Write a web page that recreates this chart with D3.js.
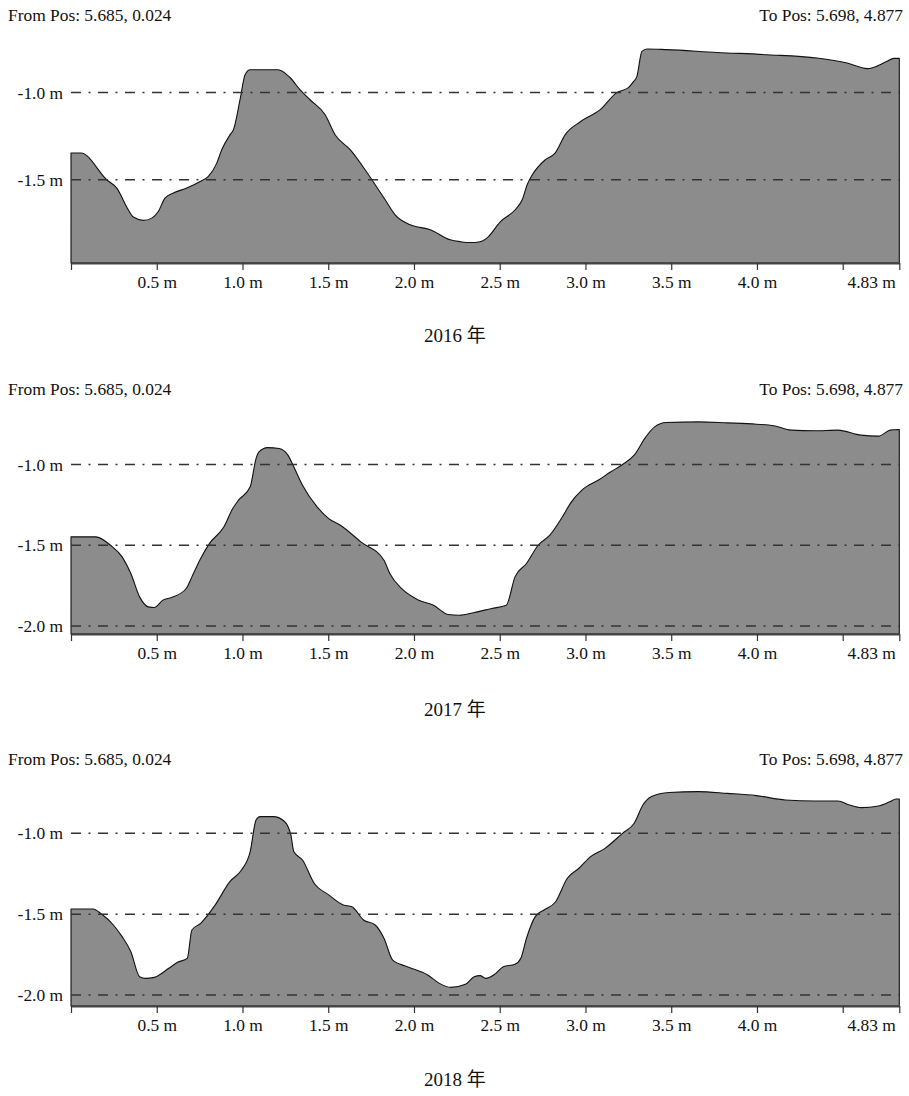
<!DOCTYPE html>
<html><head><meta charset="utf-8">
<script src="https://cdn.jsdelivr.net/npm/d3@7"></script>
<style>
html,body{margin:0;padding:0;background:#fff;}
svg text{font-family:"Liberation Serif",Tinos,"Times New Roman",Times,"DejaVu Serif",serif;fill:#111;}
svg text.cjk{font-family:"Liberation Serif",Tinos,"Times New Roman","Noto Sans CJK SC",serif;}
</style></head>
<body>
<svg id="chart" width="909" height="1096"></svg>
<script>
// ---- data (distance along profile in m, elevation in m) ----
const years = ["2016", "2017", "2018"];
const fromLabel = "From Pos: 5.685, 0.024";
const toLabel = "To Pos: 5.698, 4.877";
const xTickValues = [0, 0.5, 1.0, 1.5, 2.0, 2.5, 3.0, 3.5, 4.0, 4.5, 4.83];
const xTickLabels = ["", "0.5 m", "1.0 m", "1.5 m", "2.0 m", "2.5 m", "3.0 m", "3.5 m", "4.0 m", "", "4.83 m"];
const gridValues2016 = [-1.0, -1.5];
const gridValues2017 = [-1.0, -1.5, -2.0];
const gridValues2018 = [-1.0, -1.5, -2.0];

const dist2016 = [0,0.058,0.208,0.267,0.334,0.364,0.422,0.471,0.509,0.548,0.597,0.675,0.753,0.801,0.85,0.879,0.928,0.947,0.986,1.015,1.044,1.208,1.278,1.336,1.394,1.482,1.54,1.628,1.715,1.774,1.832,1.89,1.978,2.095,2.211,2.27,2.328,2.386,2.433,2.503,2.59,2.631,2.66,2.69,2.765,2.824,2.882,2.97,3.086,3.184,3.25,3.281,3.30,3.329,3.359,3.475,3.767,4.058,4.35,4.526,4.643,4.759,4.798,4.83];
const elev2016 = [-1.347,-1.347,-1.50,-1.548,-1.672,-1.714,-1.733,-1.72,-1.682,-1.605,-1.576,-1.548,-1.51,-1.481,-1.405,-1.328,-1.242,-1.214,-1.04,-0.899,-0.87,-0.87,-0.916,-0.985,-1.042,-1.128,-1.242,-1.328,-1.443,-1.529,-1.615,-1.701,-1.758,-1.786,-1.844,-1.855,-1.86,-1.855,-1.827,-1.741,-1.672,-1.615,-1.529,-1.472,-1.386,-1.346,-1.242,-1.168,-1.099,-1.0,-0.973,-0.937,-0.908,-0.765,-0.751,-0.755,-0.771,-0.784,-0.803,-0.832,-0.864,-0.822,-0.805,-0.805];

const dist2017 = [0,0.145,0.23,0.298,0.349,0.40,0.451,0.485,0.536,0.587,0.672,0.705,0.756,0.807,0.892,0.943,0.977,1.045,1.079,1.096,1.146,1.214,1.265,1.299,1.35,1.435,1.503,1.571,1.69,1.825,1.859,1.927,2.029,2.114,2.198,2.266,2.351,2.453,2.538,2.589,2.656,2.724,2.792,2.877,2.911,2.979,3.081,3.148,3.216,3.284,3.352,3.403,3.471,3.658,3.827,3.997,4.099,4.2,4.336,4.472,4.607,4.709,4.777,4.83];
const elev2017 = [-1.448,-1.448,-1.5,-1.572,-1.675,-1.82,-1.882,-1.886,-1.84,-1.824,-1.768,-1.696,-1.582,-1.49,-1.386,-1.273,-1.221,-1.138,-0.963,-0.922,-0.895,-0.901,-0.942,-1.014,-1.128,-1.262,-1.335,-1.376,-1.479,-1.593,-1.675,-1.768,-1.841,-1.872,-1.929,-1.934,-1.917,-1.892,-1.872,-1.696,-1.613,-1.5,-1.438,-1.304,-1.242,-1.159,-1.093,-1.045,-1.0,-0.942,-0.829,-0.767,-0.74,-0.736,-0.742,-0.75,-0.76,-0.787,-0.791,-0.787,-0.818,-0.824,-0.787,-0.783];

const dist2018 = [0,0.128,0.18,0.247,0.298,0.349,0.40,0.434,0.485,0.57,0.621,0.678,0.705,0.756,0.841,0.926,0.994,1.045,1.079,1.103,1.18,1.242,1.282,1.299,1.35,1.418,1.503,1.588,1.638,1.706,1.774,1.825,1.876,1.961,2.08,2.148,2.215,2.30,2.351,2.385,2.419,2.47,2.521,2.589,2.623,2.656,2.707,2.758,2.826,2.894,2.962,3.03,3.114,3.216,3.284,3.335,3.386,3.488,3.658,3.827,3.997,4.166,4.336,4.472,4.54,4.607,4.709,4.777,4.811,4.83];
const elev2018 = [-1.468,-1.468,-1.501,-1.567,-1.639,-1.732,-1.887,-1.897,-1.891,-1.835,-1.798,-1.773,-1.598,-1.557,-1.443,-1.299,-1.227,-1.113,-0.918,-0.897,-0.897,-0.924,-1.01,-1.113,-1.165,-1.309,-1.381,-1.443,-1.454,-1.536,-1.567,-1.649,-1.784,-1.825,-1.876,-1.928,-1.953,-1.934,-1.887,-1.88,-1.897,-1.872,-1.825,-1.81,-1.773,-1.649,-1.515,-1.474,-1.423,-1.278,-1.216,-1.144,-1.093,-1.0,-0.938,-0.825,-0.773,-0.748,-0.742,-0.753,-0.767,-0.794,-0.8,-0.8,-0.825,-0.841,-0.831,-0.804,-0.788,-0.788];

// ---- layout ----
const panels = [
  {year: years[0], dist: dist2016, elev: elev2016, grid: gridValues2016, top: 0,   axisY: 263, bottom: -1.977, pxPerM: 174.6},
  {year: years[1], dist: dist2017, elev: elev2017, grid: gridValues2017, top: 374, axisY: 260, bottom: -2.050, pxPerM: 161.4},
  {year: years[2], dist: dist2018, elev: elev2018, grid: gridValues2018, top: 744, axisY: 262, bottom: -2.068, pxPerM: 161.7}
];
const FS = 17.4;
const svg = d3.select("#chart");
const x = d3.scaleLinear().domain([0, 4.83]).range([71, 899.3]);

panels.forEach(p => {
  const g = svg.append("g").attr("transform", `translate(0,${p.top})`);
  const plotTop = 35;
  const topVal = p.bottom + (p.axisY - plotTop) / p.pxPerM;
  const y = d3.scaleLinear().domain([p.bottom, topVal]).range([p.axisY, plotTop]);
  const pts = p.dist.map((d, i) => [d, p.elev[i]]);

  // header
  g.append("text").attr("x", 8).attr("y", 21).attr("font-size", FS).text(fromLabel);
  g.append("text").attr("x", 903).attr("y", 21).attr("text-anchor", "end").attr("font-size", FS).text(toLabel);

  // area
  const area = d3.area().x(d => x(d[0])).y0(y(p.bottom)).y1(d => y(d[1])).curve(d3.curveMonotoneX);
  g.append("path").datum(pts).attr("d", area)
    .attr("fill", "#8c8c8c").attr("stroke", "#111").attr("stroke-width", 1.1).attr("stroke-linejoin", "round");

  // grid lines
  g.selectAll("line.grid").data(p.grid).enter().append("line").attr("class", "grid")
    .attr("x1", x(0)).attr("x2", x(4.83)).attr("y1", d => y(d)).attr("y2", d => y(d))
    .attr("stroke", "#333").attr("stroke-width", 1.5).attr("stroke-dasharray", "10,7.5,2,7.5");
  g.selectAll("text.ylab").data(p.grid).enter().append("text").attr("class", "ylab")
    .attr("x", 63).attr("y", d => y(d)).attr("dy", "0.35em").attr("text-anchor", "end")
    .attr("font-size", FS).text(d => d.toFixed(1) + " m");

  // x axis
  const ax = d3.axisBottom(x).tickValues(xTickValues)
    .tickFormat((d, i) => xTickLabels[i]).tickSize(7).tickSizeOuter(0).tickPadding(6);
  const axG = g.append("g").attr("transform", `translate(0,${p.axisY})`).call(ax);
  axG.attr("font-family", null).attr("font-size", null);
  axG.select(".domain").attr("stroke", "#444").attr("stroke-width", 2);
  axG.selectAll(".tick line").attr("stroke", "#333").attr("stroke-width", 1.2);
  axG.selectAll(".tick text").attr("font-size", FS).attr("fill", "#111")
    .attr("text-anchor", (d, i) => i === xTickValues.length - 1 ? "end" : "middle")
    .attr("dx", (d, i) => i === xTickValues.length - 1 ? -4 : 0);

  // year title
  g.append("text").attr("class", "cjk").attr("x", 455).attr("y", 342).attr("text-anchor", "middle").attr("font-size", 19)
    .text(p.year + " 年");
});
</script>
</body></html>
